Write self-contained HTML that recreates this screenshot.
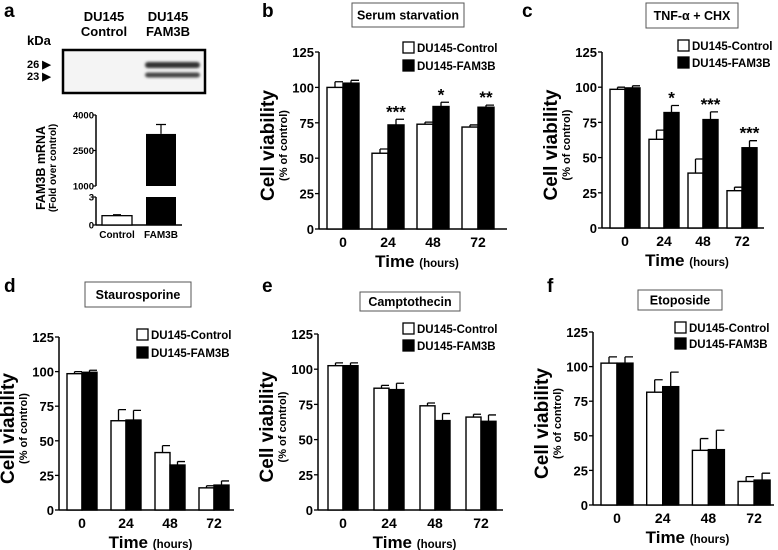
<!DOCTYPE html>
<html><head><meta charset="utf-8"><style>
html,body{margin:0;padding:0;background:#fff;}
svg{display:block;font-family:"Liberation Sans",Arial,sans-serif;}
</style></head><body>
<svg id="fig" width="778" height="550" viewBox="0 0 778 550" xmlns="http://www.w3.org/2000/svg">
<defs><filter id="blur" x="-20%" y="-50%" width="140%" height="200%"><feGaussianBlur stdDeviation="1.3"/></filter></defs>
<g>
<text x="4" y="17" font-size="19" font-weight="bold">a</text>
<text x="104" y="21" font-size="13" font-weight="bold" text-anchor="middle">DU145</text>
<text x="104" y="36" font-size="13" font-weight="bold" text-anchor="middle">Control</text>
<text x="168" y="21" font-size="13" font-weight="bold" text-anchor="middle">DU145</text>
<text x="168" y="36" font-size="13" font-weight="bold" text-anchor="middle">FAM3B</text>
<text x="27" y="45" font-size="13" font-weight="bold">kDa</text>
<text x="27" y="68" font-size="11" font-weight="bold">26 ▶</text>
<text x="27" y="80" font-size="11" font-weight="bold">23 ▶</text>
<rect x="63" y="50" width="142" height="43" fill="#f4f4f4" stroke="#000" stroke-width="2.5"/>
<rect x="145" y="62" width="55" height="6" rx="3" fill="#333" filter="url(#blur)"/>
<rect x="145" y="72.5" width="55" height="5" rx="3" fill="#444" filter="url(#blur)"/>
<g id="panelA"></g>
</g>
<g id="charts"></g>
</svg>
<script>
// Panel a data
const aCategories = ['Control','FAM3B'];
const aValues = [1, 3200];
const aErrors = [0.1, 400];
const aTicksLow = [0, 3];
const aTicksHigh = [1000, 2500, 4000];

// Panel b-f data
const timeCategories = ['0','24','48','72'];
const seriesNames = ['DU145-Control','DU145-FAM3B'];
const yTicks = [0,25,50,75,100,125];
const bControl = [100, 53.5, 74, 72];
const bControlErr = [4, 3, 1.5, 1.5];
const bFam = [103, 73.5, 86.5, 86];
const bFamErr = [2, 4, 3, 1.5];
const bStars = ['', '***', '*', '**'];
const cControl = [98.5, 63, 39, 26.5];
const cControlErr = [1.5, 6.5, 10, 2.5];
const cFam = [99.5, 82, 77, 57];
const cFamErr = [1.5, 5, 5.5, 5];
const cStars = ['', '*', '***', '***'];
const dControl = [98.5, 64.5, 41.5, 16];
const dControlErr = [1.5, 8, 5, 1.5];
const dFam = [99.5, 65, 32.5, 18];
const dFamErr = [1.5, 7, 2.5, 3];
const eControl = [102.5, 86.5, 74, 66];
const eControlErr = [2, 2, 2, 2];
const eFam = [102.5, 85.5, 63.5, 63];
const eFamErr = [2, 4.5, 5, 4.5];
const fControl = [102.5, 81.5, 39.5, 17];
const fControlErr = [4.5, 9, 8.5, 3.5];
const fFam = [102.5, 85.5, 40, 18];
const fFamErr = [4.5, 10.5, 14, 5];

const NS = 'http://www.w3.org/2000/svg';
function mk(parent, tag, attrs, text){
  const el = document.createElementNS(NS, tag);
  for (const k in attrs) el.setAttribute(k, attrs[k]);
  if (text !== undefined) el.textContent = text;
  parent.appendChild(el);
  return el;
}

(function(){
  const g = document.getElementById('panelA');
  const ax = 96, y0 = 225, y3 = 197, y1000 = 186, y4000 = 115;
  function yA(v){ return v <= 3 ? y0 - (v/3)*(y0-y3) : y1000 - (v-1000)/3000*(y1000-y4000); }
  let l;
  l = mk(g,'line',{x1:ax,y1:y0,x2:ax,y2:y3,stroke:'#000','stroke-width':1.5});
   
  l = mk(g,'line',{x1:ax,y1:y1000,x2:ax,y2:y4000,stroke:'#000','stroke-width':1.5});
   
  l = mk(g,'line',{x1:ax,y1:y0,x2:182,y2:y0,stroke:'#000','stroke-width':1.5});
   
  aTicksLow.concat(aTicksHigh).forEach(t=>{
    const y = yA(t);
    const tk = mk(g,'line',{x1:ax-3,y1:y,x2:ax,y2:y,stroke:'#000','stroke-width':1.2});
     
    const tx = mk(g,'text',{x:ax-2,y:y+3.5,'font-size':9.5,'font-weight':'bold','text-anchor':'end'},String(t));
     
  });
  const centers = [117, 161], bw = 30;
  aCategories.forEach((c,i)=>{
    const v = aValues[i], x = centers[i]-bw/2, fill = i===0?'#fff':'#000';
    if (v <= 3){
      const r = mk(g,'rect',{x:x,y:yA(v),width:bw,height:y0-yA(v),fill:fill,stroke:'#000','stroke-width':1.3});
       
      const e = mk(g,'path',{d:`M${centers[i]},${yA(v)} V${yA(v+aErrors[i])} M${centers[i]-4},${yA(v+aErrors[i])} h8`,stroke:'#000','stroke-width':1.2,fill:'none'});
       
    } else {
      const r1 = mk(g,'rect',{x:x,y:y3,width:bw,height:y0-y3,fill:fill});
       
      const r2 = mk(g,'rect',{x:x,y:yA(v),width:bw,height:y1000-yA(v),fill:fill});
       
      const e = mk(g,'path',{d:`M${centers[i]},${yA(v)} V${yA(v+aErrors[i])} M${centers[i]-5},${yA(v+aErrors[i])} h10`,stroke:'#000','stroke-width':1.2,fill:'none'});
       
    }
    const tx = mk(g,'text',{x:centers[i],y:y0+13,'font-size':10,'font-weight':'bold','text-anchor':'middle'},c);
     
  });
  const lab = mk(g,'text',{transform:'translate(45,168) rotate(-90)','font-size':12.5,'font-weight':'bold','text-anchor':'middle'},'FAM3B mRNA');
   
  const lab2 = mk(g,'text',{transform:'translate(56,168) rotate(-90)','font-size':10,'font-weight':'bold','text-anchor':'middle'},'(Fold over control)');
   
})();

const panels = [
  {id:'b', title:'Serum starvation', ax:319, y0:229, yt:52, c0:343, sp:45, bw:16, xEnd:507, box:[352,3,112,24], leg:[403,47,65], letter:[262,17], ctrl:bControl, ctrlE:bControlErr, fam:bFam, famE:bFamErr, stars:bStars},
  {id:'c', title:'TNF-α + CHX', ax:602, y0:228, yt:52, c0:625, sp:39, bw:15, xEnd:764, box:[646,3,92,25], leg:[678,45,62], letter:[522,17], ctrl:cControl, ctrlE:cControlErr, fam:cFam, famE:cFamErr, stars:cStars},
  {id:'d', title:'Staurosporine', ax:59, y0:510, yt:337, c0:82, sp:44, bw:15, xEnd:234, box:[85,282,106,25], leg:[137,334,352], letter:[4,292], ctrl:dControl, ctrlE:dControlErr, fam:dFam, famE:dFamErr, stars:null},
  {id:'e', title:'Camptothecin', ax:318, y0:510, yt:334, c0:343, sp:46, bw:15, xEnd:503, box:[360,292,100,19], leg:[403,328,345], letter:[262,292], ctrl:eControl, ctrlE:eControlErr, fam:eFam, famE:eFamErr, stars:null},
  {id:'f', title:'Etoposide', ax:593, y0:505, yt:332, c0:617, sp:45.7, bw:16, xEnd:774, box:[638,290,84,20], leg:[675,327,343], letter:[547,292], ctrl:fControl, ctrlE:fControlErr, fam:fFam, famE:fFamErr, stars:null}
];
const root = document.getElementById('charts');
panels.forEach(p=>{
  const g = mk(root,'g',{});
   
  const yS = v => p.y0 - v/125*(p.y0-p.yt);
  const xS = i => p.c0 + i*p.sp;
  let el;
  el = mk(g,'text',{x:p.letter[0],y:p.letter[1],'font-size':19,'font-weight':'bold'},p.id);
   
  el = mk(g,'rect',{x:p.box[0],y:p.box[1],width:p.box[2],height:p.box[3],fill:'#fff',stroke:'#555','stroke-width':1});
   
  el = mk(g,'text',{x:p.box[0]+p.box[2]/2,y:p.box[1]+p.box[3]/2+4.5,'font-size':12.5,'font-weight':'bold','text-anchor':'middle'},p.title);
   
  el = mk(g,'line',{x1:p.ax,y1:p.y0,x2:p.ax,y2:p.yt,stroke:'#000','stroke-width':1.5});
   
  el = mk(g,'line',{x1:p.ax,y1:p.y0,x2:p.xEnd,y2:p.y0,stroke:'#000','stroke-width':1.5});
   
  yTicks.forEach(t=>{
    const y = yS(t);
    const tk = mk(g,'line',{x1:p.ax-4,y1:y,x2:p.ax,y2:y,stroke:'#000','stroke-width':1.3});
     
    const tx = mk(g,'text',{x:p.ax-5,y:y+5,'font-size':13,'font-weight':'bold','text-anchor':'end'},String(t));
     
  });
  const mid = (p.y0+p.yt)/2 + 5;
  el = mk(g,'text',{transform:`translate(${p.ax-45},${mid}) rotate(-90)`,'font-size':19,'font-weight':'bold','text-anchor':'middle'},'Cell viability');
   
  el = mk(g,'text',{transform:`translate(${p.ax-32},${mid}) rotate(-90)`,'font-size':11,'font-weight':'bold','text-anchor':'middle'},'(% of control)');
   
  timeCategories.forEach((c,i)=>{
    const cx = xS(i);
    [[p.ctrl,p.ctrlE,'#fff'],[p.fam,p.famE,'#000']].forEach((s,si)=>{
      const v = s[0][i], e = s[1][i];
      const bx = cx + (si===0 ? -p.bw : 0);
      const mx = bx + p.bw/2;
      const ep = mk(g,'path',{d:`M${mx},${yS(v)} V${yS(v+e)} M${mx},${yS(v+e)} h${p.bw/2}`,stroke:'#000','stroke-width':1.3,fill:'none'});
       
      const r = mk(g,'rect',{x:bx,y:yS(v),width:p.bw,height:p.y0-yS(v),fill:s[2],stroke:'#000','stroke-width':1.4});
       
    });
    if (p.stars && p.stars[i]){
      const top = p.fam[i]+p.famE[i];
      const st = mk(g,'text',{x:cx+p.bw/2,y:yS(top)-2,'font-size':17,'font-weight':'bold','text-anchor':'middle'},p.stars[i]);
       
    }
    const tx = mk(g,'text',{x:cx,y:p.y0+18,'font-size':14,'font-weight':'bold','text-anchor':'middle'},c);
     
  });
  const tm = mk(g,'text',{x:(p.ax+p.xEnd)/2+4,y:p.y0+38,'font-size':17,'font-weight':'bold','text-anchor':'middle'});
   
  mk(tm,'tspan',{},'Time ');
  mk(tm,'tspan',{'font-size':11.5},'(hours)');
  seriesNames.forEach((n,si)=>{
    const y = p.leg[1+si];
    const sq = mk(g,'rect',{x:p.leg[0],y:y-5,width:11,height:11,fill:si===0?'#fff':'#000',stroke:'#000','stroke-width':1.3});
     
    const lt = mk(g,'text',{x:p.leg[0]+14,y:y+5,'font-size':11.5,'font-weight':'bold'},n);
     
  });
});
</script>
</body></html>
